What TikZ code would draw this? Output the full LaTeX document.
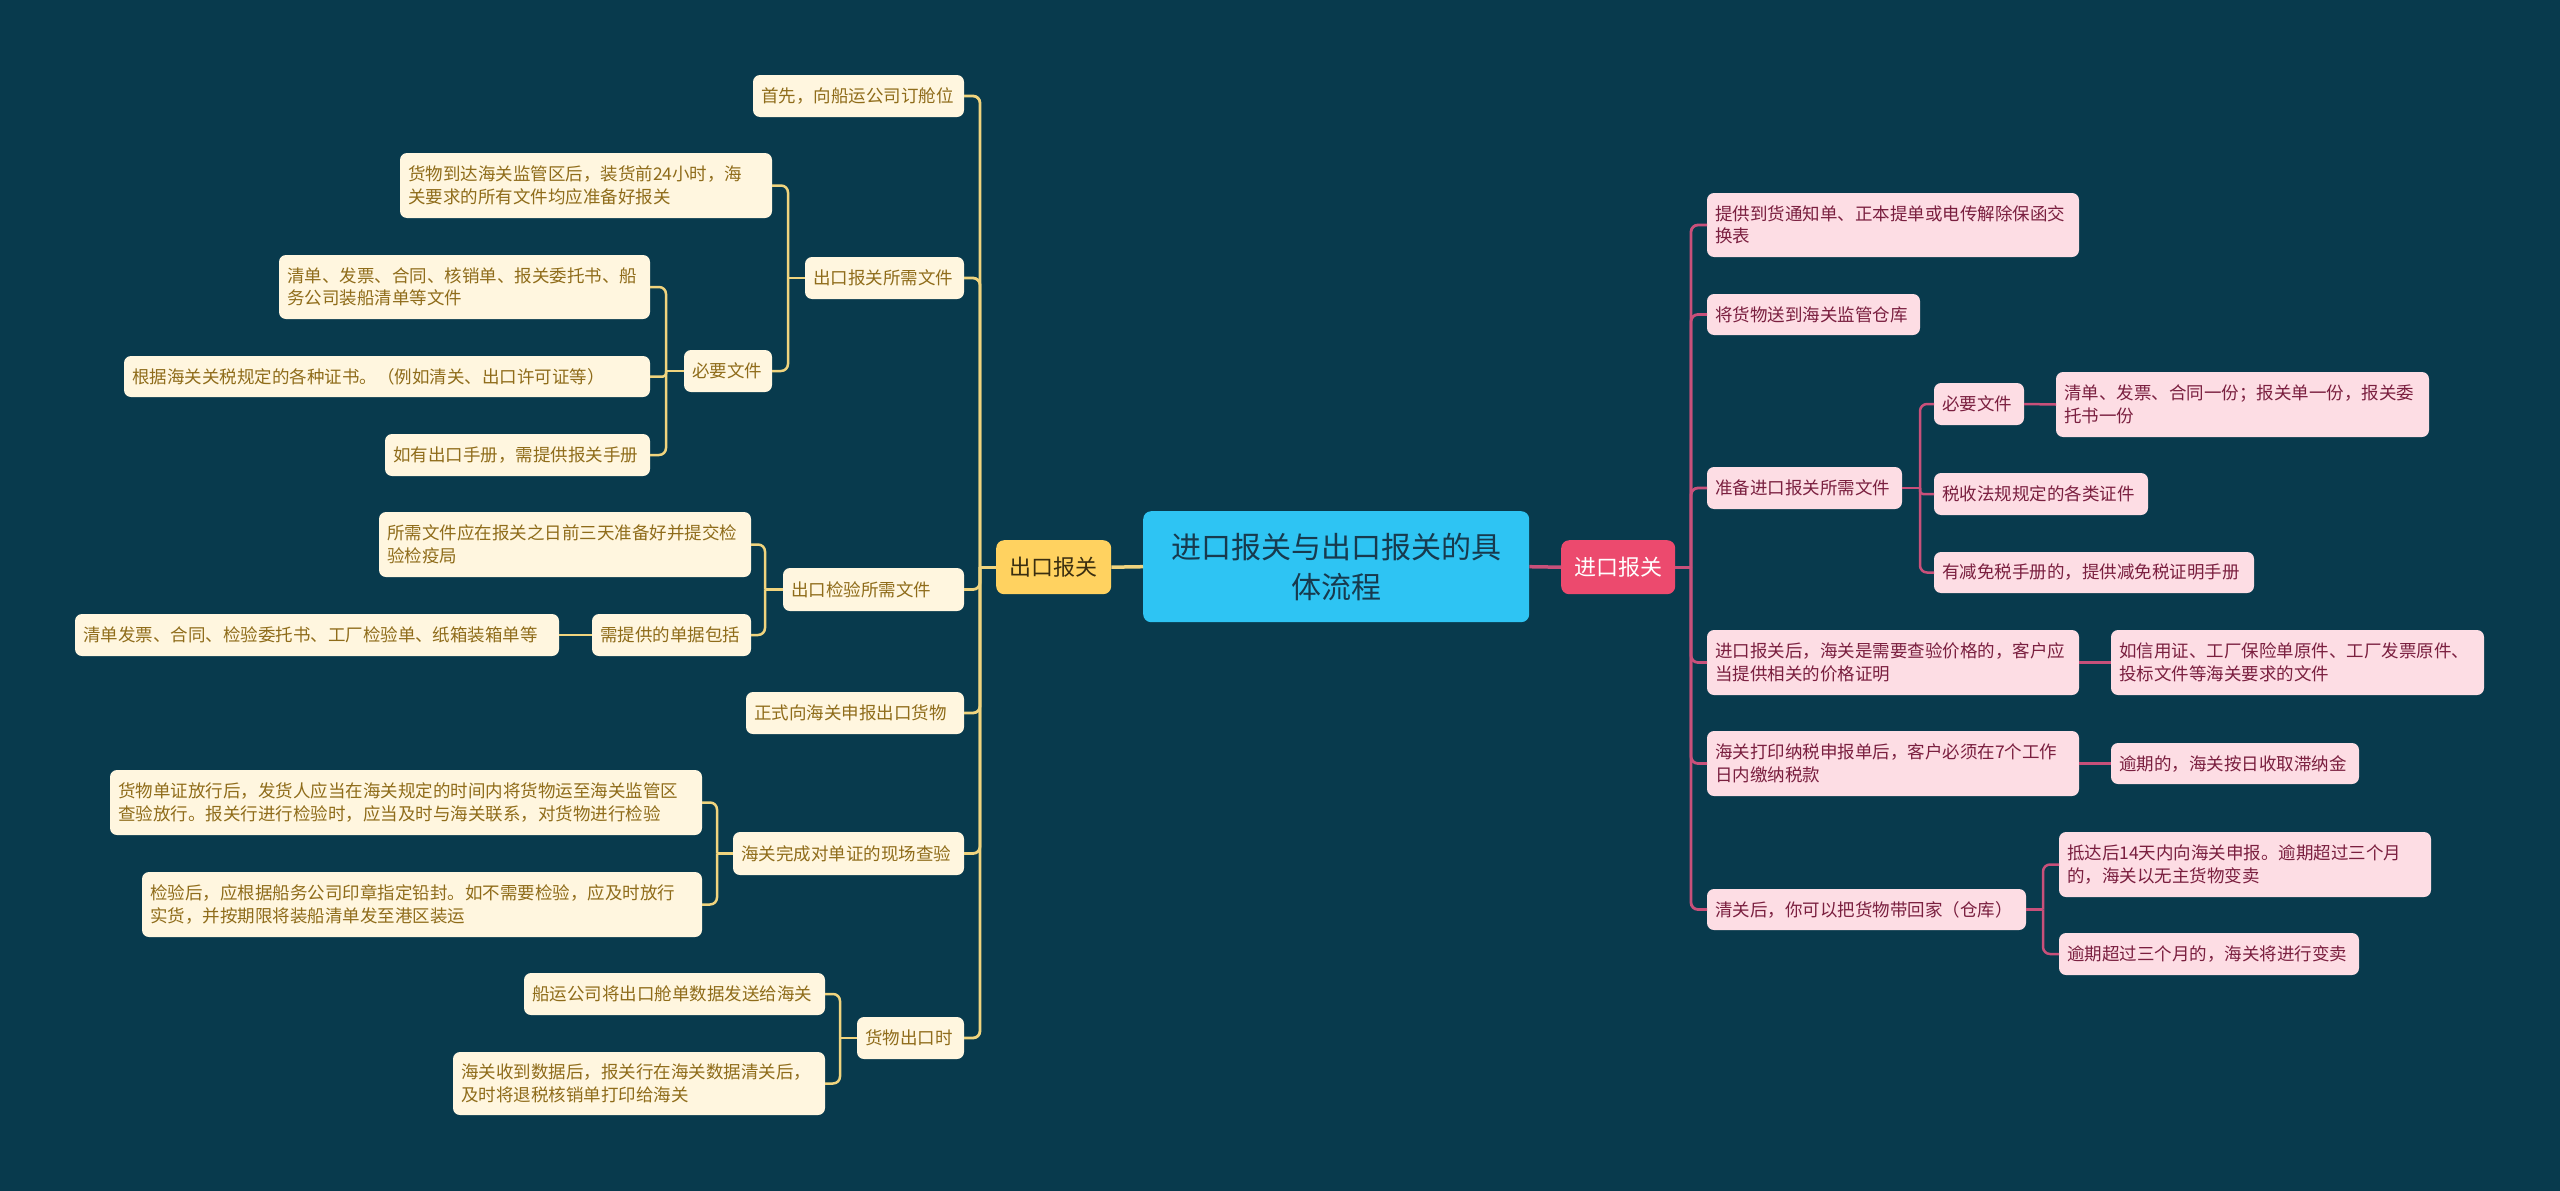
\documentclass[tikz,border=0pt]{standalone}
\usepackage{fontspec}
\setmainfont{Noto Sans CJK SC}
\usetikzlibrary{calc}
\definecolor{bg}{HTML}{083A4D}
\definecolor{cream}{HTML}{FFF6DF}
\definecolor{ltext}{HTML}{8F6C1A}
\definecolor{lline}{HTML}{F0D47E}
\definecolor{ofill}{HTML}{FFD260}
\definecolor{otext}{HTML}{3A2E10}
\definecolor{cfill}{HTML}{2EC4F3}
\definecolor{ctext}{HTML}{173A4E}
\definecolor{pfill}{HTML}{EC4A6E}
\definecolor{rfill}{HTML}{FDDDE4}
\definecolor{rtext}{HTML}{7A1F3F}
\definecolor{rline}{HTML}{C8507A}
\newcommand\mkbox[7]{%
  \pgfmathsetmacro\bxw{#5-#3-16}%
  \pgfmathsetmacro\bxh{#6-#4}%
  \node[#1, anchor=north west, text width=\bxw pt, minimum height=\bxh pt] (#2) at (#3,#4) {#7};}
\tikzset{
  basebox/.style={rounded corners=7pt, inner xsep=8pt, inner ysep=0pt, outer sep=0pt, align=left,
    font=\fontsize{17.5}{22.5}\selectfont},
  lbox/.style={basebox, fill=cream, text=ltext},
  rbox/.style={basebox, fill=rfill, text=rtext},
  lln/.style={draw=lline, line width=2.5pt},
  rln/.style={draw=rline, line width=2.5pt},
  lcv/.style={lln, rounded corners=7pt},
  rcv/.style={rln, rounded corners=7pt},
}
\begin{document}
\begin{tikzpicture}[x=1pt,y=-1pt]
\useasboundingbox (0,0) rectangle (2560,1191);
\fill[bg] (0,0) rectangle (2560,1191);

% trunk coordinates
\coordinate (tL0) at (980,0);
\coordinate (tL2) at (788,0);
\coordinate (tL2b) at (666,0);
\coordinate (tL3) at (765,0);
\coordinate (tL5) at (717,0);
\coordinate (tL6) at (840,0);
\coordinate (tR0) at (1691,0);
\coordinate (tR3) at (1920,0);
\coordinate (tR6) at (2043,0);

% central nodes
\node[anchor=north west, fill=cfill, text=ctext, rounded corners=8pt, minimum width=386pt, minimum height=111pt,
  align=center, font=\fontsize{30}{40}\selectfont, inner sep=0pt] (C) at (1143,511) {进口报关与出口报关的具\\体流程};
\node[anchor=north west, fill=ofill, text=otext, rounded corners=8pt, minimum width=115pt, minimum height=54pt,
  font=\fontsize{22}{26}\selectfont, inner sep=0pt] (O) at (996,540) {出口报关};
\node[anchor=north west, fill=pfill, text=white, rounded corners=8pt, minimum width=114pt, minimum height=54pt,
  font=\fontsize{22}{26}\selectfont, inner sep=0pt] (P) at (1561,540) {进口报关};

% left nodes
\mkbox{lbox}{L1}{753}{75}{964}{117}{首先，向船运公司订舱位}
\mkbox{lbox}{L2}{805}{257}{964}{299}{出口报关所需文件}
\mkbox{lbox}{L2a}{400}{153}{772}{218}{货物到达海关监管区后，装货前24小时，海\\关要求的所有文件均应准备好报关}
\mkbox{lbox}{L2b}{684}{350}{772}{392}{必要文件}
\mkbox{lbox}{L2b1}{279}{255}{650}{319}{清单、发票、合同、核销单、报关委托书、船\\务公司装船清单等文件}
\mkbox{lbox}{L2b2}{124}{356}{650}{397}{根据海关关税规定的各种证书。（例如清关、出口许可证等）}
\mkbox{lbox}{L2b3}{385}{434}{650}{476}{如有出口手册，需提供报关手册}
\mkbox{lbox}{L3}{783}{568}{964}{611}{出口检验所需文件}
\mkbox{lbox}{L3a}{379}{512}{751}{577}{所需文件应在报关之日前三天准备好并提交检\\验检疫局}
\mkbox{lbox}{L3b}{592}{614}{751}{656}{需提供的单据包括}
\mkbox{lbox}{L3b1}{75}{614}{559}{656}{清单发票、合同、检验委托书、工厂检验单、纸箱装箱单等}
\mkbox{lbox}{L4}{746}{692}{964}{734}{正式向海关申报出口货物}
\mkbox{lbox}{L5}{733}{832}{964}{875}{海关完成对单证的现场查验}
\mkbox{lbox}{L5a}{110}{770}{702}{835}{货物单证放行后，发货人应当在海关规定的时间内将货物运至海关监管区\\查验放行。报关行进行检验时，应当及时与海关联系，对货物进行检验}
\mkbox{lbox}{L5b}{142}{872}{702}{937}{检验后，应根据船务公司印章指定铅封。如不需要检验，应及时放行\\实货，并按期限将装船清单发至港区装运}
\mkbox{lbox}{L6}{857}{1017}{964}{1059}{货物出口时}
\mkbox{lbox}{L6a}{524}{973}{825}{1015}{船运公司将出口舱单数据发送给海关}
\mkbox{lbox}{L6b}{453}{1052}{825}{1115}{海关收到数据后，报关行在海关数据清关后，\\及时将退税核销单打印给海关}

% right nodes
\mkbox{rbox}{R1}{1707}{193}{2079}{257}{提供到货通知单、正本提单或电传解除保函交\\换表}
\mkbox{rbox}{R2}{1707}{294}{1920}{335}{将货物送到海关监管仓库}
\mkbox{rbox}{R3}{1707}{467}{1902}{509}{准备进口报关所需文件}
\mkbox{rbox}{R3a}{1934}{383}{2024}{425}{必要文件}
\mkbox{rbox}{R3a1}{2056}{372}{2429}{437}{清单、发票、合同一份；报关单一份，报关委\\托书一份}
\mkbox{rbox}{R3b}{1934}{473}{2148}{515}{税收法规规定的各类证件}
\mkbox{rbox}{R3c}{1934}{552}{2254}{593}{有减免税手册的，提供减免税证明手册}
\mkbox{rbox}{R4}{1707}{630}{2079}{695}{进口报关后，海关是需要查验价格的，客户应\\当提供相关的价格证明}
\mkbox{rbox}{R4a}{2111}{630}{2484}{695}{如信用证、工厂保险单原件、工厂发票原件、\\投标文件等海关要求的文件}
\mkbox{rbox}{R5}{1707}{731}{2079}{796}{海关打印纳税申报单后，客户必须在7个工作\\日内缴纳税款}
\mkbox{rbox}{R5a}{2111}{743}{2359}{784}{逾期的，海关按日收取滞纳金}
\mkbox{rbox}{R6}{1707}{889}{2026}{930}{清关后，你可以把货物带回家（仓库）}
\mkbox{rbox}{R6a}{2059}{832}{2431}{897}{抵达后14天内向海关申报。逾期超过三个月\\的，海关以无主货物变卖}
\mkbox{rbox}{R6b}{2059}{933}{2359}{975}{逾期超过三个月的，海关将进行变卖}

% central connectors
\draw[draw=lline, line width=3.5pt] (C.west) -- (O.east);
\draw[draw=rline, line width=3.5pt] (C.east) -- (P.west);

% left connectors
\draw[lln, line width=3pt] (O.west) -- (O.west -| tL0);
\foreach \c in {L1,L2,L3,L4,L5,L6}
  \draw[lcv, line width=2.8pt] (O.west -| tL0) |- (\c.east);

\draw[lln] (L2.west) -- (L2.west -| tL2);
\draw[lcv] (L2.west -| tL2) |- (L2a.east);
\draw[lcv] (L2.west -| tL2) |- (L2b.east);

\draw[lln] (L2b.west) -- (L2b.west -| tL2b);
\draw[lcv] (L2b.west -| tL2b) |- (L2b1.east);
\draw[lln, rounded corners=3pt] (L2b.west -| tL2b) |- (L2b2.east);
\draw[lcv] (L2b.west -| tL2b) |- (L2b3.east);

\draw[lln] (L3.west) -- (L3.west -| tL3);
\draw[lcv] (L3.west -| tL3) |- (L3a.east);
\draw[lcv] (L3.west -| tL3) |- (L3b.east);
\draw[lln] (L3b.west) -- (L3b1.east);

\draw[lln] (L5.west) -- (L5.west -| tL5);
\draw[lcv] (L5.west -| tL5) |- (L5a.east);
\draw[lcv] (L5.west -| tL5) |- (L5b.east);

\draw[lln] (L6.west) -- (L6.west -| tL6);
\draw[lcv] (L6.west -| tL6) |- (L6a.east);
\draw[lcv] (L6.west -| tL6) |- (L6b.east);

% right connectors
\draw[rln, line width=3pt] (P.east) -- (P.east -| tR0);
\foreach \c in {R1,R2,R3,R4,R5,R6}
  \draw[rcv, line width=2.8pt] (P.east -| tR0) |- (\c.west);

\draw[rln] (R3.east) -- (R3.east -| tR3);
\draw[rcv] (R3.east -| tR3) |- (R3a.west);
\draw[rln, rounded corners=3pt] (R3.east -| tR3) |- (R3b.west);
\draw[rcv] (R3.east -| tR3) |- (R3c.west);
\draw[rln] (R3a.east) -- (R3a1.west);

\draw[rln] (R4.east) -- (R4a.west);
\draw[rln] (R5.east) -- (R5a.west);

\draw[rln] (R6.east) -- (R6.east -| tR6);
\draw[rcv] (R6.east -| tR6) |- (R6a.west);
\draw[rcv] (R6.east -| tR6) |- (R6b.west);
\end{tikzpicture}
\end{document}
